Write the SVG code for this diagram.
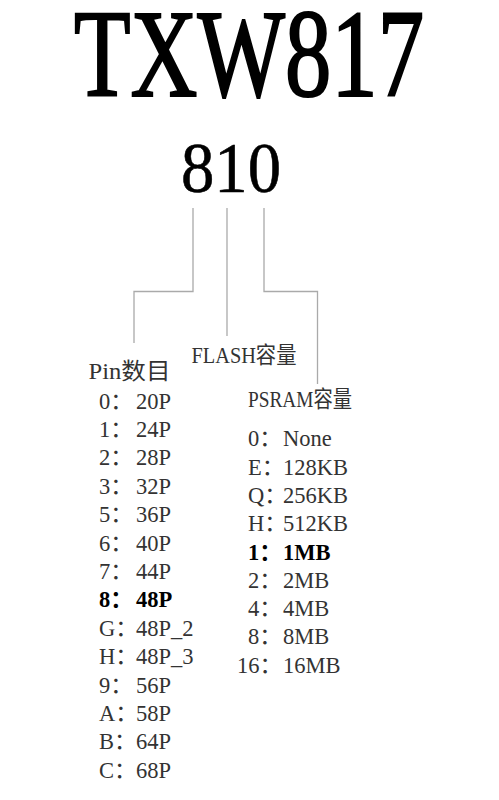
<svg xmlns="http://www.w3.org/2000/svg" width="499" height="800" viewBox="0 0 499 800">
<style>
text{font-family:"Liberation Serif","Noto Sans CJK SC",serif;fill:#333}
.t{fill:#000}
.r{font-size:22.5px}
.b{font-weight:bold;fill:#000}
.c{fill:none;stroke:#aaa;stroke-width:1.3}
</style>
<rect width="499" height="800" fill="#fff"/>
<g id="title"><text class="t" x="74" y="96" font-size="124" stroke="#000" stroke-width="2.2" textLength="350" lengthAdjust="spacingAndGlyphs">TXW817</text></g>
<g id="code"><text class="t" x="181" y="191.5" font-size="71" stroke="#000" stroke-width="0.6" textLength="100" lengthAdjust="spacingAndGlyphs">810</text></g>
<g id="connectors">
<polyline class="c" points="193,208 193,291.5 134,291.5 134,343"/>
<polyline class="c" points="227,208 227,336"/>
<polyline class="c" points="264,208 264,291.5 317.5,291.5 317.5,384"/>
</g>
<g id="pin">
<text x="88.5" y="378.5" font-size="22.5" textLength="82" lengthAdjust="spacingAndGlyphs">Pin数目</text>
<g class="r">
<text x="99" y="408.5">0：<tspan x="136">20P</tspan></text>
<text x="99" y="436.9">1：<tspan x="136">24P</tspan></text>
<text x="99" y="465.3">2：<tspan x="136">28P</tspan></text>
<text x="99" y="493.7">3：<tspan x="136">32P</tspan></text>
<text x="99" y="522.1">5：<tspan x="136">36P</tspan></text>
<text x="99" y="550.5">6：<tspan x="136">40P</tspan></text>
<text x="99" y="578.9">7：<tspan x="136">44P</tspan></text>
<text class="b" x="99" y="607.3">8：<tspan x="136">48P</tspan></text>
<text x="99" y="635.7">G：<tspan x="136">48P_2</tspan></text>
<text x="99" y="664.1">H：<tspan x="136">48P_3</tspan></text>
<text x="99" y="692.5">9：<tspan x="136">56P</tspan></text>
<text x="99" y="720.9">A：<tspan x="136">58P</tspan></text>
<text x="99" y="749.3">B：<tspan x="136">64P</tspan></text>
<text x="99" y="777.7">C：<tspan x="136">68P</tspan></text>
</g>
</g>
<g id="flash"><text x="191.5" y="363" font-size="22.5" textLength="105" lengthAdjust="spacingAndGlyphs">FLASH容量</text></g>
<g id="psram">
<text x="248" y="406.7" font-size="22.5" textLength="104" lengthAdjust="spacingAndGlyphs">PSRAM容量</text>
<g class="r">
<text x="248" y="446.3">0：<tspan x="283">None</tspan></text>
<text x="248" y="474.6">E：<tspan x="283">128KB</tspan></text>
<text x="248" y="502.9">Q：<tspan x="283">256KB</tspan></text>
<text x="248" y="531.2">H：<tspan x="283">512KB</tspan></text>
<text class="b" x="248" y="559.5">1：<tspan x="283">1MB</tspan></text>
<text x="248" y="587.8">2：<tspan x="283">2MB</tspan></text>
<text x="248" y="616.1">4：<tspan x="283">4MB</tspan></text>
<text x="248" y="644.4">8：<tspan x="283">8MB</tspan></text>
<text x="237" y="672.7">16：<tspan x="283">16MB</tspan></text>
</g>
</g>
</svg>
